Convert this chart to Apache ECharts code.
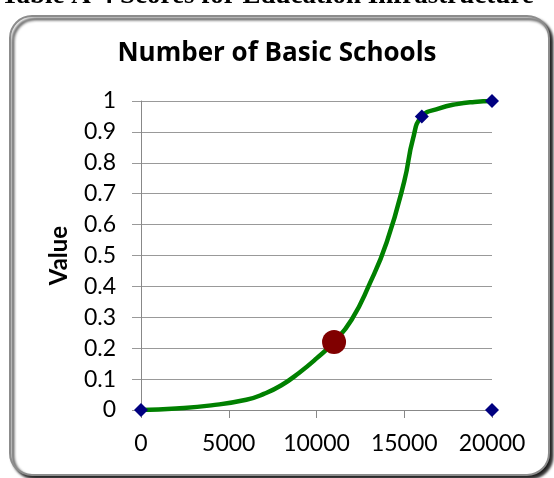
<!DOCTYPE html>
<html><head><meta charset="utf-8">
<script src="https://cdn.jsdelivr.net/npm/echarts@6/dist/echarts.min.js"></script>
<style>html,body{margin:0;padding:0;background:#fff}#c{width:554px;height:478px}</style>
</head><body><div id="c"></div>
<script>
const caption = 'Table A-4 Scores for Education Infrastructure';
const title = 'Number of Basic Schools';
const yName = 'Value';
const curveX = [0, 2000, 4000, 6000, 7000, 8000, 9000, 10000, 11000, 12000, 13000, 14000, 15000, 15500, 16000, 17000, 18000, 19000, 20000];
const curveY = [0, 0.005, 0.015, 0.033, 0.052, 0.08, 0.12, 0.167, 0.22, 0.292, 0.405, 0.543, 0.74, 0.878, 0.95, 0.976, 0.99, 0.997, 1];
const markerX = [0, 16000, 20000, 20000];
const markerY = [0, 0.95, 1, 0];
const currentX = [11000];
const currentY = [0.22];

const chart = echarts.init(document.getElementById('c'));
const font = 'Lato, "Open Sans", sans-serif';
chart.setOption({
  animation: false,
  graphic: [
    {type: 'rect', left: 9, top: 15, shape: {width: 539, height: 459, r: 22}, z: -10,
     style: {fill: '#fff', stroke: '#8c8c8c', lineWidth: 2, shadowColor: 'rgba(0,0,0,0.9)', shadowOffsetX: 3, shadowOffsetY: 3, shadowBlur: 3}},
    {type: 'text', left: 1, top: -17, style: {text: caption, font: 'bold 27px "Liberation Serif", serif', fill: '#000'}},
  ],
  title: {text: title, left: 'center', top: 36, textStyle: {fontFamily: '"Open Sans", sans-serif', fontWeight: 'bold', fontSize: 26, color: '#000'}},
  grid: {left: 141, right: 62, top: 101, bottom: 68},
  xAxis: {type: 'value', min: 0, max: 20000, interval: 5000,
    axisLine: {lineStyle: {color: '#888', width: 1}},
    axisTick: {show: true, length: 8, lineStyle: {color: '#888'}},
    axisLabel: {fontFamily: font, fontSize: 23, color: '#000', margin: 22, formatter: v => String(v)},
    splitLine: {show: false}},
  yAxis: {type: 'value', min: 0, max: 1, interval: 0.1, name: yName, nameLocation: 'middle', nameGap: 70,
    nameTextStyle: {fontFamily: font, fontWeight: 'bold', fontSize: 24, color: '#000'},
    axisLine: {show: true, lineStyle: {color: '#888', width: 1}},
    axisTick: {show: true, length: 9, lineStyle: {color: '#999'}},
    axisLabel: {fontFamily: font, fontSize: 23, color: '#000', margin: 25},
    splitLine: {lineStyle: {color: '#999', width: 1}}},
  series: [
    {type: 'line', data: curveX.map((x, i) => [x, curveY[i]]), smooth: 0.5, symbol: 'none',
     lineStyle: {color: '#008000', width: 4.5}, z: 2},
    {type: 'scatter', data: markerX.map((x, i) => [x, markerY[i]]), symbol: 'diamond', symbolSize: 14,
     itemStyle: {color: '#000080', opacity: 1}, z: 3},
    {type: 'scatter', data: currentX.map((x, i) => [x, currentY[i]]), symbol: 'circle', symbolSize: 24,
     itemStyle: {color: '#800000', opacity: 1}, z: 4}
  ]
});
</script></body></html>
